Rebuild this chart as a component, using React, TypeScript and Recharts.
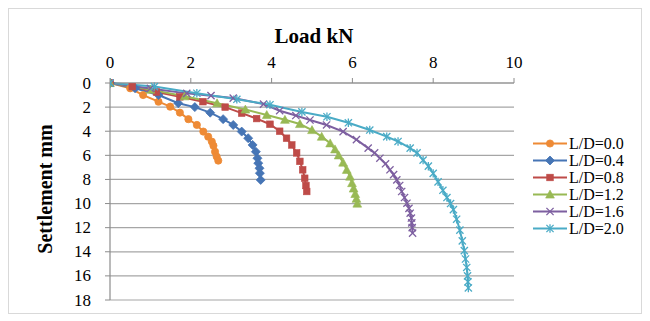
import React from 'react';
import { LineChart, Line, XAxis, YAxis, CartesianGrid, Legend } from 'recharts';

const seriesNames = ['L/D=0.0', 'L/D=0.4', 'L/D=0.8', 'L/D=1.2', 'L/D=1.6', 'L/D=2.0'];
const seriesColors = ['#EE8A35', '#4675B5', '#BE4B48', '#98B954', '#7D5FA0', '#4AABC6'];
const seriesMarkers = ['circle', 'diamond', 'square', 'triangle', 'x', 'star'];

const xTicks = [0, 2, 4, 6, 8, 10];
const yTicks = [0, 2, 4, 6, 8, 10, 12, 14, 16, 18];

const loadLD00 = [0, 0.5, 0.82, 1.2, 1.49, 1.73, 1.94, 2.15, 2.31, 2.43, 2.52, 2.56, 2.6, 2.64, 2.68];
const settleLD00 = [0, 0.44, 1.0, 1.55, 1.96, 2.46, 3.0, 3.48, 4.03, 4.45, 4.86, 5.2, 5.7, 6.1, 6.44];

const loadLD04 = [0, 0.62, 1.2, 1.69, 2.1, 2.48, 2.8, 3.05, 3.26, 3.42, 3.53, 3.61, 3.65, 3.67, 3.7, 3.71, 3.73];
const settleLD04 = [0, 0.44, 1.0, 1.68, 2.0, 2.46, 3.0, 3.48, 4.03, 4.58, 5.14, 5.7, 6.24, 6.65, 7.07, 7.48, 8.04];

const loadLD08 = [0, 0.55, 1.15, 1.73, 2.3, 2.85, 3.26, 3.63, 3.96, 4.2, 4.37, 4.5, 4.62, 4.7, 4.77, 4.82, 4.85, 4.87];
const settleLD08 = [0, 0.3, 0.75, 1.15, 1.55, 2.0, 2.5, 2.95, 3.42, 4.0, 4.58, 5.14, 5.8, 6.5, 7.2, 7.9, 8.5, 9.0];

const loadLD12 = [0, 1.0, 1.85, 2.65, 3.35, 3.88, 4.33, 4.7, 5.0, 5.24, 5.45, 5.57, 5.66, 5.77, 5.86, 5.94, 5.99, 6.03, 6.07, 6.1, 6.12];
const settleLD12 = [0, 0.55, 1.1, 1.68, 2.2, 2.65, 3.05, 3.4, 3.9, 4.45, 5.0, 5.5, 6.0, 6.6, 7.2, 7.76, 8.3, 8.75, 9.2, 9.6, 10.0];

const loadLD16 = [0, 1.0, 1.9, 2.5, 3.05, 3.8, 4.2, 4.6, 4.95, 5.36, 5.77, 6.1, 6.39, 6.55, 6.68, 6.82, 6.93, 7.02, 7.1, 7.17, 7.22, 7.29, 7.35, 7.4, 7.43, 7.46, 7.47, 7.48, 7.49];
const settleLD16 = [0, 0.45, 0.86, 1.05, 1.25, 1.75, 2.3, 2.7, 3.07, 3.48, 4.03, 4.7, 5.4, 5.8, 6.24, 6.7, 7.2, 7.6, 8.04, 8.5, 9.0, 9.5, 9.97, 10.4, 10.8, 11.2, 11.6, 12.0, 12.45];

const loadLD20 = [0, 1.1, 2.15, 3.14, 3.96, 4.75, 5.37, 5.9, 6.43, 6.85, 7.13, 7.43, 7.6, 7.75, 7.88, 8.0, 8.12, 8.24, 8.34, 8.43, 8.5, 8.58, 8.66, 8.72, 8.77, 8.8, 8.83, 8.85, 8.86, 8.87];
const settleLD20 = [0, 0.3, 0.85, 1.35, 1.8, 2.4, 2.8, 3.3, 3.9, 4.45, 4.85, 5.4, 5.8, 6.4, 6.9, 7.5, 8.2, 8.9, 9.5, 10.0, 10.5, 11.3, 12.2, 13.1, 13.9, 14.6, 15.3, 16.0, 16.5, 17.0];

const loads = [loadLD00, loadLD04, loadLD08, loadLD12, loadLD16, loadLD20];
const settles = [settleLD00, settleLD04, settleLD08, settleLD12, settleLD16, settleLD20];

const seriesData = loads.map((ls, i) => ls.map((l, j) => ({ load: l, settle: settles[i][j] })));

const SERIF = '"Liberation Serif", "Times New Roman", serif';

function Marker({ shape, color, cx, cy }: { shape: string; color: string; cx: number; cy: number }) {
  switch (shape) {
    case 'circle':
      return <circle cx={cx} cy={cy} r={3.6} fill={color} stroke={color} strokeWidth={0.8} />;
    case 'diamond':
      return <polygon points={`${cx},${cy - 4.5} ${cx + 4.5},${cy} ${cx},${cy + 4.5} ${cx - 4.5},${cy}`} fill={color} stroke={color} strokeWidth={0.8} />;
    case 'square':
      return <rect x={cx - 3.3} y={cy - 3.3} width={6.6} height={6.6} fill={color} stroke={color} strokeWidth={0.6} />;
    case 'triangle':
      return <polygon points={`${cx},${cy - 4.4} ${cx + 4.4},${cy + 3.6} ${cx - 4.4},${cy + 3.6}`} fill={color} stroke={color} strokeWidth={0.6} />;
    case 'x':
      return (
        <g stroke={color} strokeWidth={1.3}>
          <line x1={cx - 3.6} y1={cy - 3.6} x2={cx + 3.6} y2={cy + 3.6} />
          <line x1={cx - 3.6} y1={cy + 3.6} x2={cx + 3.6} y2={cy - 3.6} />
        </g>
      );
    default:
      return (
        <g stroke={color} strokeWidth={1.3}>
          <line x1={cx - 3.6} y1={cy - 3.6} x2={cx + 3.6} y2={cy + 3.6} />
          <line x1={cx - 3.6} y1={cy + 3.6} x2={cx + 3.6} y2={cy - 3.6} />
          <line x1={cx} y1={cy - 4.2} x2={cx} y2={cy + 4.2} />
        </g>
      );
  }
}

const makeDot = (shape: string, color: string) => (props: any) => {
  const { cx, cy, index } = props;
  if (cx == null || cy == null) return <g key={`d-${shape}-${index}`} />;
  return (
    <g key={`d-${shape}-${index}`}>
      <Marker shape={shape} color={color} cx={cx} cy={cy} />
    </g>
  );
};

const XTick = (props: any) => {
  const { x, y, payload } = props;
  return (
    <text x={x} y={y - 8} textAnchor="middle" fontFamily={SERIF} fontSize={17} fill="#000">
      {payload.value}
    </text>
  );
};

const YTick = (props: any) => {
  const { x, y, payload } = props;
  return (
    <text x={x - 12} y={y + 5.5} textAnchor="end" fontFamily={SERIF} fontSize={17} fill="#000">
      {payload.value}
    </text>
  );
};

const renderLegend = () => (
  <div style={{ fontFamily: SERIF, fontSize: 16, color: '#000' }}>
    {seriesNames.map((n, i) => (
      <div key={n} style={{ display: 'flex', alignItems: 'center', height: 17 }}>
        <svg width={37} height={17} style={{ display: 'block' }}>
          <line x1={1} y1={8.5} x2={35} y2={8.5} stroke={seriesColors[i]} strokeWidth={2.2} />
          <Marker shape={seriesMarkers[i]} color={seriesColors[i]} cx={18} cy={8.5} />
        </svg>
        <span style={{ lineHeight: '17px', whiteSpace: 'nowrap' }}>{n}</span>
      </div>
    ))}
  </div>
);

export default function App() {
  return (
    <div style={{ width: 634, height: 306, border: '1px solid #D9D9D9', boxSizing: 'border-box', background: '#fff' }}>
      <LineChart width={632} height={304} margin={{ top: 44, right: 127, bottom: 13, left: 61 }}>
        <CartesianGrid horizontal={true} vertical={false} stroke="#A6A6A6" strokeWidth={1.2} />
        <XAxis
          type="number"
          dataKey="load"
          orientation="top"
          domain={[0, 10]}
          ticks={xTicks}
          height={30}
          tick={<XTick />}
          tickSize={5}
          axisLine={{ stroke: '#8C8C8C', strokeWidth: 1.2 }}
          tickLine={{ stroke: '#8C8C8C' }}
          allowDataOverflow
        />
        <YAxis
          type="number"
          dataKey="settle"
          reversed
          domain={[0, 18]}
          ticks={yTicks}
          width={40}
          tick={<YTick />}
          tickSize={5}
          axisLine={{ stroke: '#8C8C8C', strokeWidth: 1.2 }}
          tickLine={{ stroke: '#8C8C8C' }}
          interval={0}
        />
        {seriesData.map((d, i) => (
          <Line
            key={seriesNames[i]}
            data={d}
            dataKey="settle"
            name={seriesNames[i]}
            type="linear"
            stroke={seriesColors[i]}
            strokeWidth={2}
            dot={makeDot(seriesMarkers[i], seriesColors[i])}
            activeDot={false}
            isAnimationActive={false}
          />
        ))}
        <Legend
          layout="horizontal"
          verticalAlign="middle"
          align="center"
          content={renderLegend}
          wrapperStyle={{ left: 523, top: 126, width: 110, height: 104 }}
        />
        <text x={305} y={34} textAnchor="middle" fontFamily={SERIF} fontSize={21} fontWeight="bold" fill="#000">
          Load kN
        </text>
        <text
          x={43}
          y={180}
          textAnchor="middle"
          transform="rotate(-90, 43, 180)"
          fontFamily={SERIF}
          fontSize={20}
          fontWeight="bold"
          fill="#000"
        >
          Settlement mm
        </text>
      </LineChart>
    </div>
  );
}
